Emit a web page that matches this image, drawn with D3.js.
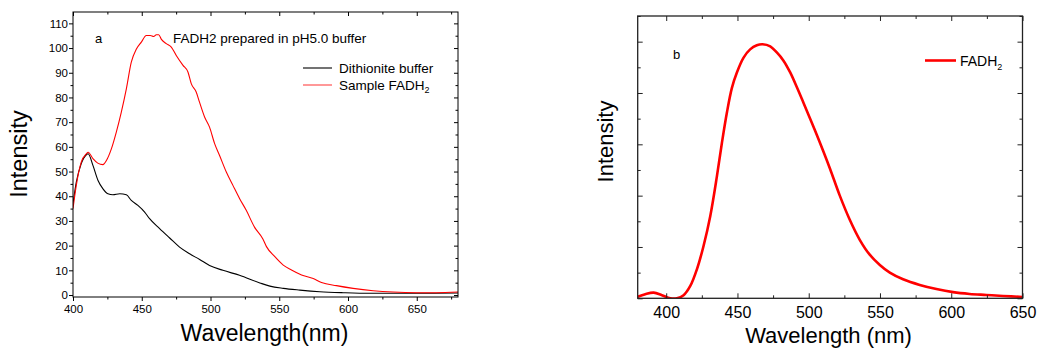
<!DOCTYPE html>
<html>
<head>
<meta charset="utf-8">
<script src="https://cdn.jsdelivr.net/npm/d3@7"></script>
<style>
  html, body { margin: 0; padding: 0; background: #fff; }
  svg { display: block; font-family: "Liberation Sans", Arial, sans-serif; }
</style>
</head>
<body>
<svg id="chart" width="1039" height="350"></svg>
<script>
// ---------- Panel a data ----------
const sampleWavelength = [400,402.4,406,409.7,411,414.5,418,421.8,424.3,427.9,431.5,435.1,438.8,442.4,446,449.7,453.3,456.2,458.7,460.6,462.3,464.3,467.8,471.5,475.1,480,483.6,486,489.6,492,495.7,499.3,503,506.6,511.5,516.3,521.2,526,532,538,540.7,546.8,552.9,558.9,566.2,574.7,580.7,591.6,603.7,618.3,632.8,649.8,664.3,680];
const sampleFADH2 =      [35,44.4,53.8,57.2,57.8,55.2,53.4,52.8,54.5,59.2,66,74,83.5,94.3,99.5,102.4,105.1,105.1,104.7,105.4,105.4,103.5,101.8,100.4,97,93,90.3,85.6,82.2,78.1,72.1,68,61.3,56.5,49.8,44.4,39,34.3,27.5,22.8,19.6,15.5,12.1,10.1,8.1,6.7,5.1,3.8,2.7,1.75,1.2,0.95,0.95,1.2];

const bufferWavelength = [400,402.4,406,409.7,411,414.5,418.2,421.8,425.4,429,434,438.8,442.4,447.2,452.1,455.7,463,470.3,477.5,484.8,492.1,499.3,509,521.1,535.9,543.2,552.9,565,579.5,596.5,615.8,637.6,657,680];
const dithioniteBuffer = [37,45.7,53.2,56.8,57.2,52.5,46.4,43,41,40.6,41,40.6,38.3,36.3,33.6,30.9,26.9,23.1,19.4,16.7,14.4,12,10,8,4.9,3.6,2.7,2.0,1.35,0.95,0.7,0.7,0.7,0.8];

const xTicksA = [400,450,500,550,600,650];
const xMinorA = [425,475,525,575,625,675];
const yTicksA = [0,10,20,30,40,50,60,70,80,90,100,110];
const yMinorA = [5,15,25,35,45,55,65,75,85,95,105];

// ---------- Panel b data ----------
const wavelengthB = [380,385.3,391.2,397,402.9,407.5,412.2,416.9,421.6,426.2,430.9,435.6,439.1,442.6,446.1,449.6,454.3,458.9,463.6,467.6,473,477.6,482.3,487,491.7,496.3,501,505.7,510.3,515,521.8,528.8,535.8,542.8,549.9,556.9,566.2,577.9,589.6,601.3,612.9,624.6,636.3,650];
const fadh2B =      [0.03,0.08,0.11,0.06,0.0,0.0,0.06,0.24,0.57,1.02,1.6,2.38,3.03,3.62,4.1,4.4,4.69,4.85,4.93,4.95,4.91,4.79,4.63,4.4,4.11,3.81,3.5,3.18,2.86,2.52,2.0,1.53,1.14,0.85,0.65,0.5,0.37,0.26,0.18,0.12,0.085,0.065,0.045,0.026];

const xTicksB = [400,450,500,550,600,650];
const xMinorB = [425,475,525,575,625];
const yTicksB = [0,1,2,3,4,5];
const yMinorB = [0.5,1.5,2.5,3.5,4.5,5.5];

const svg = d3.select("#chart");

function drawAxes(g, x, y, o) {
  // bottom
  g.append("g").attr("transform", `translate(0,${o.bottom})`)
    .call(d3.axisBottom(x).tickValues(o.xMajor).tickSize(o.bSize).tickPadding(o.bPad).tickSizeOuter(0))
    .call(s => { s.select(".domain").remove(); s.selectAll("text").attr("font-size", o.tickFont).attr("fill", "#000"); s.selectAll("line").attr("stroke", o.stroke); });
  g.append("g").attr("transform", `translate(0,${o.bottom})`)
    .call(d3.axisBottom(x).tickValues(o.xMinor).tickSize(o.bMinor).tickFormat("").tickSizeOuter(0))
    .call(s => { s.select(".domain").remove(); s.selectAll("line").attr("stroke", o.stroke); });
  // top (mirror, inward)
  g.append("g").attr("transform", `translate(0,${o.top})`)
    .call(d3.axisTop(x).tickValues(o.xMajor).tickSize(-o.inMajor).tickFormat("").tickSizeOuter(0))
    .call(s => { s.select(".domain").remove(); s.selectAll("line").attr("stroke", o.stroke); });
  g.append("g").attr("transform", `translate(0,${o.top})`)
    .call(d3.axisTop(x).tickValues(o.xMinor).tickSize(-o.inMinor).tickFormat("").tickSizeOuter(0))
    .call(s => { s.select(".domain").remove(); s.selectAll("line").attr("stroke", o.stroke); });
  // left
  g.append("g").attr("transform", `translate(${o.left},0)`)
    .call(d3.axisLeft(y).tickValues(o.yMajor).tickSize(o.lSize).tickPadding(o.lPad).tickSizeOuter(0)
      .tickFormat(o.yLabels ? d3.format("d") : ""))
    .call(s => { s.select(".domain").remove(); s.selectAll("text").attr("font-size", o.tickFont).attr("fill", "#000"); s.selectAll("line").attr("stroke", o.stroke); });
  g.append("g").attr("transform", `translate(${o.left},0)`)
    .call(d3.axisLeft(y).tickValues(o.yMinor).tickSize(o.lMinor).tickFormat("").tickSizeOuter(0))
    .call(s => { s.select(".domain").remove(); s.selectAll("line").attr("stroke", o.stroke); });
  // right (mirror, inward)
  g.append("g").attr("transform", `translate(${o.right},0)`)
    .call(d3.axisRight(y).tickValues(o.yMajor).tickSize(-o.inMajor).tickFormat("").tickSizeOuter(0))
    .call(s => { s.select(".domain").remove(); s.selectAll("line").attr("stroke", o.stroke); });
  g.append("g").attr("transform", `translate(${o.right},0)`)
    .call(d3.axisRight(y).tickValues(o.yMinor).tickSize(-o.inMinor).tickFormat("").tickSizeOuter(0))
    .call(s => { s.select(".domain").remove(); s.selectAll("line").attr("stroke", o.stroke); });
  // frame
  g.append("rect").attr("x", o.left).attr("y", o.top)
    .attr("width", o.right - o.left).attr("height", o.bottom - o.top)
    .attr("fill", "none").attr("stroke", o.stroke).attr("stroke-width", o.frameW);
}

// ================= Panel a =================
{
  const L = 73, R = 458, T = 12, B = 297;
  const x = d3.scaleLinear().domain([400, 680]).range([L, R]);
  const y = d3.scaleLinear().domain([-0.8, 114.6]).range([B, T]);
  const g = svg.append("g");

  const clipId = "clipA";
  g.append("clipPath").attr("id", clipId).append("rect").attr("x", L).attr("y", T).attr("width", R - L).attr("height", B - T);

  const line = d3.line().x((d) => x(d[0])).y((d) => y(d[1])).curve(d3.curveMonotoneX);
  g.append("path").datum(d3.zip(bufferWavelength, dithioniteBuffer))
    .attr("clip-path", `url(#${clipId})`)
    .attr("d", line).attr("fill", "none").attr("stroke", "#000").attr("stroke-width", 1.1);
  g.append("path").datum(d3.zip(sampleWavelength, sampleFADH2))
    .attr("clip-path", `url(#${clipId})`)
    .attr("d", line).attr("fill", "none").attr("stroke", "#ff0000").attr("stroke-width", 1.1);

  drawAxes(g, x, y, {
    left: L, right: R, top: T, bottom: B,
    xMajor: xTicksA, xMinor: xMinorA, yMajor: yTicksA, yMinor: yMinorA,
    bSize: 4, bMinor: 2.5, bPad: 4, lSize: 4, lMinor: 2.5, lPad: 1,
    inMajor: 4, inMinor: 2.5, tickFont: "11.5px", yLabels: true, stroke: "#000", frameW: 1
  });

  g.append("text").attr("x", 95).attr("y", 43).attr("font-size", "13px").text("a");
  g.append("text").attr("x", 173).attr("y", 43).attr("font-size", "13.5px").text("FADH2 prepared in pH5.0 buffer");

  // legend
  g.append("line").attr("x1", 303).attr("x2", 332).attr("y1", 68).attr("y2", 68).attr("stroke", "#000").attr("stroke-width", 1.1);
  g.append("text").attr("x", 339).attr("y", 72.5).attr("font-size", "13.5px").text("Dithionite buffer");
  g.append("line").attr("x1", 303).attr("x2", 332).attr("y1", 85).attr("y2", 85).attr("stroke", "#ff6060").attr("stroke-width", 1.3);
  const t2 = g.append("text").attr("x", 339).attr("y", 89.5).attr("font-size", "13.5px");
  t2.append("tspan").text("Sample FADH");
  t2.append("tspan").attr("font-size", "9px").attr("dy", 3).text("2");

  g.append("text").attr("transform", "translate(27,154) rotate(-90)")
    .attr("text-anchor", "middle").attr("font-size", "23.5px").text("Intensity");
  g.append("text").attr("x", 264.5).attr("y", 341)
    .attr("text-anchor", "middle").attr("font-size", "23px").text("Wavelength(nm)");
}

// ================= Panel b =================
{
  const L = 637.7, R = 1022.5, T = 16, B = 298.3;
  const x = d3.scaleLinear().domain([380, 650]).range([L, R]);
  const y = d3.scaleLinear().domain([0, 5.5]).range([B, T]);
  const g = svg.append("g");

  g.append("clipPath").attr("id", "clipB").append("rect").attr("x", L).attr("y", T - 2).attr("width", R - L).attr("height", B - T + 2);

  const line = d3.line().x((d) => x(d[0])).y((d) => y(d[1])).curve(d3.curveCatmullRom.alpha(0.5));
  g.append("path").datum(d3.zip(wavelengthB, fadh2B))
    .attr("clip-path", "url(#clipB)")
    .attr("d", line).attr("fill", "none").attr("stroke", "#ff0000").attr("stroke-width", 2.6);

  drawAxes(g, x, y, {
    left: L, right: R, top: T, bottom: B,
    xMajor: xTicksB, xMinor: xMinorB, yMajor: yTicksB, yMinor: yMinorB,
    bSize: -5, bMinor: -3, bPad: 8, lSize: -5, lMinor: -3, lPad: 4,
    inMajor: 5, inMinor: 3, tickFont: "16px", yLabels: false, stroke: "#222", frameW: 1.3
  });

  g.append("text").attr("x", 673).attr("y", 59).attr("font-size", "13px").text("b");

  g.append("line").attr("x1", 925).attr("x2", 956).attr("y1", 60.5).attr("y2", 60.5).attr("stroke", "#ff0000").attr("stroke-width", 2.6);
  const t = g.append("text").attr("x", 960).attr("y", 65.5).attr("font-size", "14px");
  t.append("tspan").text("FADH");
  t.append("tspan").attr("font-size", "9px").attr("dy", 4).text("2");

  g.append("text").attr("transform", "translate(613,141.5) rotate(-90)")
    .attr("text-anchor", "middle").attr("font-size", "22px").text("Intensity");
  g.append("text").attr("x", 828.5).attr("y", 342.5)
    .attr("text-anchor", "middle").attr("font-size", "22px").text("Wavelength (nm)");
}
</script>
</body>
</html>
